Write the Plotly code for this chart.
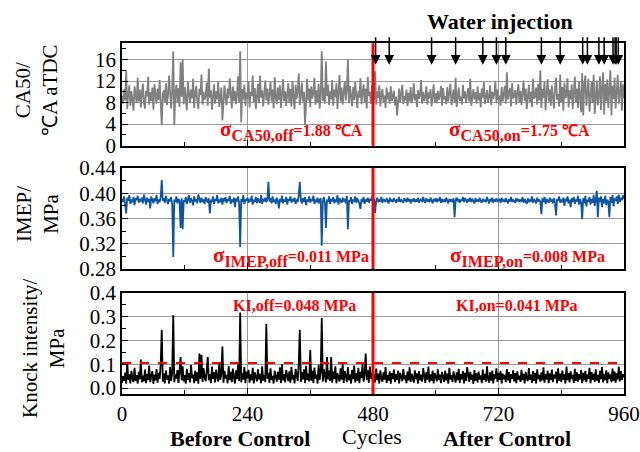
import plotly.graph_objects as go

# ---------------- data (sampled every 2 cycles) ----------------
cycles = list(range(0, 961, 2))

ca50 = [
    # before control (0-478)
    9.2, 7.8, 10.5, 8.4, 14.0, 6.8, 9.6, 11.2, 7.4, 10.1, 8.6, 6.5, 11.0, 9.3, 7.9, 12.6, 8.2, 10.4, 7.1, 9.8,
    11.5, 8.0, 6.9, 10.2, 9.1, 12.8, 7.6, 9.9, 8.3, 10.8, 6.7, 11.4, 9.0, 7.8, 10.6, 8.5, 12.2, 7.3, 3.8, 9.6,
    10.3, 8.1, 11.6, 7.5, 9.4, 13.0, 8.7, 6.9, 10.5, 17.5, 3.8, 9.8, 11.3, 8.0, 10.7, 7.2, 15.5, 9.1, 16.0, 7.7,
    10.9, 8.4, 6.6, 11.8, 9.2, 7.9, 10.4, 8.8, 12.4, 7.0, 9.7, 11.1, 8.2, 6.8, 10.6, 9.4, 13.2, 7.6, 10.0, 8.5,
    9.3, 11.7, 7.4, 14.3, 8.9, 10.3, 6.7, 9.8, 11.4, 7.8, 10.1, 8.6, 12.0, 7.2, 9.5, 10.8, 4.7, 8.4, 11.2, 9.0,
    7.5, 10.6, 8.8, 12.5, 9.6, 6.9, 11.0, 8.3, 10.2, 7.7, 9.4, 12.9, 8.0, 17.5, 4.3, 10.5, 8.6, 11.3, 7.4, 9.9,
    8.7, 11.9, 7.1, 10.0, 9.2, 13.0, 8.1, 10.7, 6.8, 9.5, 11.5, 7.9, 13.0, 8.9, 10.3, 7.3, 9.7, 12.1, 8.4, 10.6,
    7.6, 9.3, 11.8, 8.2, 10.4, 6.9, 12.7, 9.0, 7.7, 10.8, 8.5, 11.2, 7.0, 9.6, 12.3, 8.3, 10.1, 7.4, 9.8, 11.6,
    8.0, 10.5, 7.3, 12.0, 9.1, 6.8, 11.3, 8.7, 10.2, 13.4, 7.5, 9.4, 11.7, 8.2, 10.0, 3.9, 9.7, 12.4, 8.4, 10.6,
    7.2, 11.0, 8.8, 9.9, 12.6, 7.6, 10.3, 8.1, 11.5, 6.9, 9.5, 17.5, 8.3, 10.7, 7.8, 15.6, 9.2, 11.3, 7.5, 10.1,
    8.6, 12.2, 7.4, 10.4, 9.0, 11.6, 6.8, 9.7, 13.1, 8.2, 10.8, 7.6, 9.3, 12.0, 8.4, 10.5, 16.0, 7.9, 11.1, 9.4,
    7.3, 10.9, 8.5, 11.8, 9.6, 7.0, 10.2, 8.9, 12.5, 7.7, 9.8, 11.4, 8.1, 10.6, 6.9, 12.8, 9.2, 10.0, 7.8, 11.2,
    9.0,
    # after control (482-960)
    8.4, 13.8, 7.6, 10.1, 8.9, 11.2, 7.3, 9.6, 10.5, 8.1, 9.3, 7.0, 10.8, 8.6, 9.9, 7.8, 11.0, 8.3, 9.5, 10.2,
    7.5, 9.1, 5.6, 8.8, 10.6, 8.0, 9.7, 11.3, 7.7, 9.2, 8.5, 10.4, 7.4, 9.8, 8.2, 10.9, 7.9, 9.0, 11.6, 8.4,
    9.6, 7.2, 10.3, 8.7, 9.4, 12.2, 7.8, 10.0, 8.3, 9.1, 11.0, 7.6, 9.9, 8.8, 10.5, 7.3, 9.3, 11.4, 8.1, 9.7,
    7.9, 10.2, 8.5, 9.4, 11.1, 7.4, 10.7, 8.6, 9.2, 7.7, 10.9, 8.2, 9.8, 11.5, 7.5, 9.0, 10.4, 8.0, 12.6, 7.2,
    9.5, 10.8, 8.3, 9.1, 7.6, 11.3, 8.8, 10.1, 7.9, 9.6, 10.7, 8.2, 12.4, 7.4, 9.3, 10.5, 8.6, 9.9, 7.8, 11.0,
    8.4, 9.7, 7.1, 10.6, 8.9, 11.8, 7.7, 9.4, 10.3, 8.1, 9.0, 11.2, 7.5, 10.0, 8.7, 9.6, 12.0, 7.9, 10.4, 8.5,
    9.3, 7.4, 10.9, 8.2, 9.8, 11.1, 7.8, 13.6, 8.6, 9.5, 10.7, 7.3, 11.6, 8.8, 9.2, 10.3, 7.6, 9.9, 11.4, 8.0,
    10.2, 7.5, 9.4, 12.1, 8.3, 10.6, 6.8, 9.7, 11.3, 8.1, 10.0, 7.2, 12.4, 8.7, 9.1, 10.8, 7.6, 11.5, 8.4, 14.0,
    7.0, 10.5, 8.9, 11.9, 6.6, 9.8, 12.3, 8.2, 10.4, 7.4, 11.2, 9.0, 6.9, 10.7, 12.6, 8.5, 9.6, 7.3, 13.2, 8.0,
    10.9, 6.5, 11.7, 8.8, 9.4, 12.5, 7.1, 10.3, 8.6, 11.4, 6.8, 9.9, 12.8, 8.1, 10.6, 7.0, 11.9, 9.2, 6.2, 13.5,
    5.6, 11.3, 13.0, 7.4, 10.1, 12.4, 6.3, 9.5, 11.8, 8.0, 13.2, 5.9, 10.7, 12.1, 7.5, 9.3, 12.9, 6.6, 10.4, 13.6,
    5.8, 11.5, 8.2, 12.3, 7.0, 10.6, 14.0, 5.6, 11.1, 8.7, 12.6, 6.9, 10.2, 13.1, 7.8, 9.6, 12.0, 6.5, 11.4, 8.8,
]

imep = [
    0.391, 0.386, 0.395, 0.384, 0.368, 0.393, 0.388, 0.397, 0.383, 0.390, 0.386, 0.394, 0.381, 0.392, 0.389, 0.396, 0.385, 0.391, 0.387, 0.393,
    0.384, 0.398, 0.388, 0.382, 0.393, 0.386, 0.391, 0.376, 0.395, 0.389, 0.384, 0.392, 0.387, 0.397, 0.383, 0.390, 0.386, 0.394, 0.421, 0.388,
    0.392, 0.385, 0.396, 0.389, 0.383, 0.391, 0.387, 0.394, 0.382, 0.299, 0.390, 0.386, 0.395, 0.384, 0.391, 0.388, 0.345, 0.392, 0.343, 0.389,
    0.386, 0.394, 0.383, 0.390, 0.397, 0.385, 0.392, 0.388, 0.381, 0.395, 0.387, 0.391, 0.384, 0.398, 0.389, 0.385, 0.393, 0.386, 0.390, 0.383,
    0.394, 0.388, 0.385, 0.392, 0.368, 0.390, 0.386, 0.395, 0.383, 0.391, 0.388, 0.397, 0.384, 0.390, 0.386, 0.393, 0.382, 0.392, 0.387, 0.394,
    0.385, 0.391, 0.388, 0.396, 0.383, 0.390, 0.386, 0.393, 0.378, 0.392, 0.387, 0.395, 0.384, 0.315, 0.391, 0.386, 0.397, 0.383, 0.390, 0.388,
    0.393, 0.385, 0.391, 0.387, 0.396, 0.382, 0.390, 0.386, 0.394, 0.384, 0.392, 0.388, 0.385, 0.397, 0.383, 0.391, 0.387, 0.393, 0.386, 0.390,
    0.418, 0.387, 0.392, 0.384, 0.395, 0.386, 0.390, 0.383, 0.393, 0.388, 0.376, 0.391, 0.386, 0.396, 0.384, 0.390, 0.387, 0.394, 0.382, 0.391,
    0.388, 0.395, 0.385, 0.391, 0.387, 0.393, 0.383, 0.390, 0.386, 0.397, 0.418, 0.389, 0.384, 0.392, 0.386, 0.394, 0.381, 0.390, 0.387, 0.395,
    0.385, 0.391, 0.388, 0.396, 0.383, 0.390, 0.386, 0.393, 0.384, 0.389, 0.392, 0.317, 0.387, 0.394, 0.385, 0.345, 0.390, 0.386, 0.395, 0.383,
    0.391, 0.387, 0.394, 0.384, 0.390, 0.386, 0.397, 0.382, 0.392, 0.388, 0.385, 0.393, 0.387, 0.391, 0.384, 0.396, 0.343, 0.389, 0.386, 0.394,
    0.383, 0.390, 0.387, 0.395, 0.385, 0.392, 0.388, 0.384, 0.375, 0.391, 0.386, 0.394, 0.383, 0.390, 0.387, 0.393, 0.385, 0.391, 0.388, 0.395,
    0.389,
    0.391, 0.369, 0.388, 0.393, 0.386, 0.390, 0.387, 0.394, 0.385, 0.391, 0.388, 0.386, 0.392, 0.389, 0.384, 0.393, 0.387, 0.390, 0.386, 0.392,
    0.388, 0.385, 0.391, 0.387, 0.394, 0.386, 0.390, 0.388, 0.385, 0.392, 0.389, 0.386, 0.393, 0.387, 0.391, 0.384, 0.390, 0.388, 0.392, 0.386,
    0.390, 0.387, 0.393, 0.385, 0.389, 0.391, 0.386, 0.394, 0.388, 0.385, 0.392, 0.387, 0.390, 0.386, 0.393, 0.388, 0.384, 0.391, 0.387, 0.392,
    0.386, 0.390, 0.388, 0.394, 0.385, 0.391, 0.387, 0.389, 0.386, 0.393, 0.388, 0.384, 0.391, 0.387, 0.390, 0.386, 0.392, 0.362, 0.389, 0.393,
    0.387, 0.391, 0.385, 0.390, 0.388, 0.394, 0.386, 0.392, 0.389, 0.385, 0.391, 0.387, 0.393, 0.386, 0.390, 0.388, 0.384, 0.392, 0.387, 0.390,
    0.386, 0.393, 0.388, 0.385, 0.391, 0.387, 0.390, 0.386, 0.394, 0.388, 0.384, 0.391, 0.387, 0.393, 0.385, 0.390, 0.388, 0.392, 0.386, 0.389,
    0.391, 0.385, 0.393, 0.387, 0.390, 0.386, 0.392, 0.388, 0.384, 0.391, 0.387, 0.394, 0.386, 0.390, 0.388, 0.385, 0.392, 0.387, 0.391, 0.386,
    0.390, 0.387, 0.394, 0.385, 0.391, 0.388, 0.383, 0.392, 0.386, 0.390, 0.387, 0.395, 0.385, 0.391, 0.388, 0.384, 0.393, 0.387, 0.390, 0.386,
    0.367, 0.392, 0.386, 0.394, 0.383, 0.391, 0.388, 0.385, 0.393, 0.387, 0.390, 0.384, 0.392, 0.386, 0.365, 0.391, 0.388, 0.395, 0.385, 0.390,
    0.386, 0.393, 0.380, 0.391, 0.387, 0.395, 0.384, 0.390, 0.378, 0.392, 0.386, 0.394, 0.383, 0.390, 0.387, 0.396, 0.382, 0.391, 0.385, 0.359,
    0.392, 0.384, 0.396, 0.379, 0.390, 0.387, 0.394, 0.382, 0.391, 0.385, 0.397, 0.380, 0.389, 0.404, 0.362, 0.393, 0.386, 0.395, 0.378, 0.391,
    0.384, 0.396, 0.381, 0.390, 0.387, 0.362, 0.394, 0.385, 0.397, 0.379, 0.392, 0.388, 0.395, 0.383, 0.398, 0.386, 0.393, 0.389, 0.397, 0.391,
]

knock = [
    0.022, 0.048, 0.031, 0.065, 0.018, 0.110, 0.035, 0.058, 0.020, 0.072, 0.041, 0.026, 0.085, 0.030, 0.055, 0.019, 0.068, 0.037, 0.120, 0.024,
    0.052, 0.028, 0.078, 0.021, 0.060, 0.034, 0.095, 0.025, 0.049, 0.071, 0.018, 0.057, 0.032, 0.080, 0.023, 0.064, 0.038, 0.102, 0.244, 0.027,
    0.061, 0.020, 0.074, 0.036, 0.053, 0.019, 0.088, 0.030, 0.066, 0.306, 0.025, 0.058, 0.040, 0.076, 0.022, 0.069, 0.130, 0.033, 0.092, 0.028,
    0.054, 0.019, 0.081, 0.035, 0.062, 0.024, 0.097, 0.041, 0.057, 0.021, 0.073, 0.030, 0.066, 0.018, 0.145, 0.039, 0.140, 0.026, 0.084, 0.045,
    0.029, 0.070, 0.130, 0.033, 0.059, 0.021, 0.090, 0.038, 0.067, 0.024, 0.078, 0.046, 0.027, 0.104, 0.035, 0.061, 0.175, 0.022, 0.072, 0.040,
    0.056, 0.020, 0.093, 0.034, 0.068, 0.025, 0.082, 0.047, 0.019, 0.075, 0.038, 0.099, 0.030, 0.318, 0.024, 0.063, 0.036, 0.088, 0.021, 0.069,
    0.041, 0.077, 0.023, 0.058, 0.033, 0.085, 0.019, 0.066, 0.044, 0.028, 0.079, 0.036, 0.060, 0.020, 0.091, 0.031, 0.054, 0.025, 0.270, 0.039,
    0.064, 0.022, 0.083, 0.034, 0.051, 0.019, 0.073, 0.042, 0.027, 0.068, 0.035, 0.087, 0.021, 0.100, 0.032, 0.059, 0.024, 0.076, 0.040, 0.029,
    0.070, 0.023, 0.089, 0.036, 0.055, 0.020, 0.081, 0.043, 0.030, 0.104, 0.245, 0.026, 0.067, 0.037, 0.079, 0.021, 0.094, 0.033, 0.061, 0.028,
    0.160, 0.031, 0.072, 0.022, 0.086, 0.039, 0.057, 0.019, 0.098, 0.034, 0.065, 0.295, 0.027, 0.080, 0.041, 0.024, 0.130, 0.036, 0.074, 0.029,
    0.130, 0.023, 0.069, 0.038, 0.091, 0.020, 0.062, 0.044, 0.028, 0.083, 0.035, 0.100, 0.022, 0.071, 0.040, 0.026, 0.088, 0.033, 0.058, 0.019,
    0.077, 0.037, 0.095, 0.024, 0.063, 0.031, 0.085, 0.021, 0.068, 0.042, 0.102, 0.027, 0.059, 0.145, 0.034, 0.075, 0.022, 0.090, 0.038, 0.064,
    0.030,
    0.058, 0.024, 0.082, 0.033, 0.061, 0.019, 0.074, 0.040, 0.027, 0.066, 0.035, 0.088, 0.022, 0.055, 0.031, 0.070, 0.018, 0.063, 0.038, 0.078,
    0.025, 0.059, 0.034, 0.072, 0.020, 0.064, 0.041, 0.029, 0.080, 0.036, 0.053, 0.021, 0.069, 0.032, 0.087, 0.026, 0.060, 0.039, 0.023, 0.075,
    0.037, 0.062, 0.019, 0.071, 0.033, 0.056, 0.027, 0.084, 0.040, 0.022, 0.067, 0.035, 0.090, 0.024, 0.058, 0.031, 0.074, 0.020, 0.063, 0.042,
    0.028, 0.079, 0.034, 0.057, 0.021, 0.068, 0.038, 0.026, 0.073, 0.032, 0.061, 0.019, 0.085, 0.036, 0.054, 0.025, 0.070, 0.039, 0.023, 0.066,
    0.033, 0.081, 0.022, 0.059, 0.037, 0.071, 0.020, 0.064, 0.030, 0.088, 0.041, 0.026, 0.068, 0.035, 0.057, 0.018, 0.076, 0.031, 0.062, 0.024,
    0.069, 0.036, 0.053, 0.021, 0.078, 0.033, 0.060, 0.027, 0.092, 0.038, 0.023, 0.066, 0.031, 0.074, 0.020, 0.058, 0.040, 0.083, 0.026, 0.064,
    0.034, 0.072, 0.019, 0.061, 0.037, 0.055, 0.025, 0.080, 0.032, 0.067, 0.022, 0.059, 0.039, 0.075, 0.028, 0.063, 0.021, 0.070, 0.036, 0.052,
    0.026, 0.077, 0.033, 0.060, 0.020, 0.068, 0.041, 0.029, 0.084, 0.035, 0.057, 0.022, 0.071, 0.030, 0.064, 0.019, 0.079, 0.038, 0.055, 0.027,
    0.066, 0.032, 0.087, 0.023, 0.059, 0.037, 0.073, 0.021, 0.062, 0.034, 0.078, 0.025, 0.056, 0.040, 0.069, 0.020, 0.083, 0.031, 0.061, 0.026,
    0.074, 0.035, 0.058, 0.019, 0.090, 0.033, 0.063, 0.024, 0.070, 0.038, 0.055, 0.022, 0.081, 0.030, 0.066, 0.027, 0.059, 0.036, 0.076, 0.021,
    0.064, 0.032, 0.072, 0.025, 0.058, 0.039, 0.085, 0.020, 0.067, 0.034, 0.061, 0.026, 0.079, 0.031, 0.056, 0.022, 0.073, 0.037, 0.088, 0.024,
    0.060, 0.033, 0.075, 0.021, 0.066, 0.038, 0.057, 0.025, 0.082, 0.030, 0.069, 0.023, 0.062, 0.036, 0.090, 0.028, 0.071, 0.034, 0.058, 0.045,
]

assert len(ca50) == len(cycles) and len(imep) == len(cycles) and len(knock) == len(cycles)

injection_cycles = [485, 511, 592, 638, 690, 716, 734, 802, 838, 881, 890,
                    912, 922, 939, 943, 945, 949]
control_cycle = 480
knock_limit = 0.105
x_ticks = [0, 240, 480, 720, 960]

FONT = "Liberation Serif"
RED = "#ff0000"

fig = go.Figure()
fig.add_trace(go.Scatter(x=cycles, y=ca50, mode="lines",
                         line=dict(color="#808080", width=1.8), xaxis="x", yaxis="y"))
fig.add_trace(go.Scatter(x=cycles, y=imep, mode="lines",
                         line=dict(color="#0d55a3", width=1.8), xaxis="x2", yaxis="y2"))
fig.add_trace(go.Scatter(x=cycles, y=knock, mode="lines",
                         line=dict(color="#000000", width=1.8), xaxis="x3", yaxis="y3"))

xdom = [122 / 640, 624 / 640]


def pdom(top, bottom):
    return [1 - bottom / 452, 1 - top / 452]


common_x = dict(range=[0, 960], tickvals=x_ticks, domain=xdom, showline=True,
                linecolor="black", linewidth=1.5, mirror=True, ticks="inside",
                ticklen=6, tickcolor="black", showgrid=True, gridcolor="#9a9a9a",
                gridwidth=1, zeroline=False,
                minor=dict(ticks="inside", dtick=120, tick0=0, ticklen=4,
                           tickcolor="black", showgrid=False),
                tickfont=dict(family=FONT, size=21, color="black"))
common_y = dict(showline=True, linecolor="black", linewidth=1.5, mirror=True,
                ticks="inside", ticklen=6, tickcolor="black", showgrid=True,
                gridcolor="#9a9a9a", gridwidth=1, zeroline=False,
                tickfont=dict(family=FONT, size=21, color="black"))

fig.update_layout(
    width=640, height=452,
    margin=dict(l=0, r=0, t=0, b=0, autoexpand=False),
    paper_bgcolor="white", plot_bgcolor="white", showlegend=False,
    font=dict(family=FONT, color="black"),
    xaxis=dict(common_x, anchor="y", showticklabels=False),
    xaxis2=dict(common_x, anchor="y2", showticklabels=False),
    xaxis3=dict(common_x, anchor="y3", showticklabels=True),
    yaxis=dict(common_y, domain=pdom(43.3, 145.7), anchor="x", range=[0, 19],
               tickvals=[0, 4, 8, 12, 16],
               minor=dict(ticks="inside", tickvals=[2, 6, 10, 14, 18], ticklen=4,
                          tickcolor="black", showgrid=False)),
    yaxis2=dict(common_y, domain=pdom(168, 269), anchor="x2", range=[0.28, 0.44],
                tickvals=[0.28, 0.32, 0.36, 0.40, 0.44], tickformat=".2f",
                minor=dict(ticks="inside", tickvals=[0.30, 0.34, 0.38, 0.42],
                           ticklen=4, tickcolor="black", showgrid=False)),
    yaxis3=dict(common_y, domain=pdom(293, 394), anchor="x3", range=[-0.025, 0.4],
                tickvals=[0, 0.1, 0.2, 0.3, 0.4], tickformat=".1f",
                minor=dict(ticks="inside", tickvals=[0.05, 0.15, 0.25, 0.35],
                           ticklen=4, tickcolor="black", showgrid=False)),
)

for xr, yr in [("x", "y"), ("x2", "y2"), ("x3", "y3")]:
    fig.add_shape(type="line", xref=xr, yref=yr + " domain", x0=control_cycle,
                  x1=control_cycle, y0=0, y1=1, line=dict(color=RED, width=3))
fig.add_shape(type="line", xref="x3", yref="y3", x0=0, x1=960, y0=knock_limit,
              y1=knock_limit, line=dict(color=RED, width=2, dash="dash"))

anns = []
for c in injection_cycles:
    anns.append(dict(x=c, y=15, xref="x", yref="y", text="", showarrow=True,
                     ax=0, ay=-29, arrowhead=2, arrowsize=1.3, arrowwidth=1.5,
                     arrowcolor="black"))


def txt(text, xpx, ypx, size, color="black", angle=0):
    return dict(x=xpx / 640, y=1 - ypx / 452, xref="paper", yref="paper",
                text=text, showarrow=False, xanchor="center", yanchor="middle",
                textangle=angle, font=dict(family=FONT, size=size, color=color))


def sig(sub, rest):
    return ("<b><span style='font-size:21px'>σ</span><sub>" + sub + "</sub>"
            "<span style='font-size:16px'>" + rest + "</span></b>")


anns += [
    txt("<b>Water injection</b>", 500, 21, 22),
    txt(sig("CA50,off", "=1.88 ℃A"), 291, 131, 23, RED),
    txt(sig("CA50,on", "=1.75 ℃A"), 519, 131, 23, RED),
    txt(sig("IMEP,off", "=0.011 MPa"), 291, 256, 23, RED),
    txt(sig("IMEP,on", "=0.008 MPa"), 527, 256, 23, RED),
    txt("<b>KI,off=0.048 MPa</b>", 294, 305, 16, RED),
    txt("<b>KI,on=0.041 MPa</b>", 517, 305, 16, RED),
    txt("CA50/<br>℃A aTDC", 37, 90, 21, angle=-90),
    txt("IMEP/<br>MPa", 38, 214, 21, angle=-90),
    txt("Knock intensity/<br>MPa", 43, 348, 21, angle=-90),
    txt("Cycles", 372, 436, 22),
    txt("<b>Before Control</b>", 240, 438, 22),
    txt("<b>After Control</b>", 507, 438, 22),
]
fig.update_layout(annotations=anns)

fig.write_html("out.html", config={"displayModeBar": False},
               post_script="document.body.style.margin='0';"
                           "document.body.style.overflow='hidden';")
